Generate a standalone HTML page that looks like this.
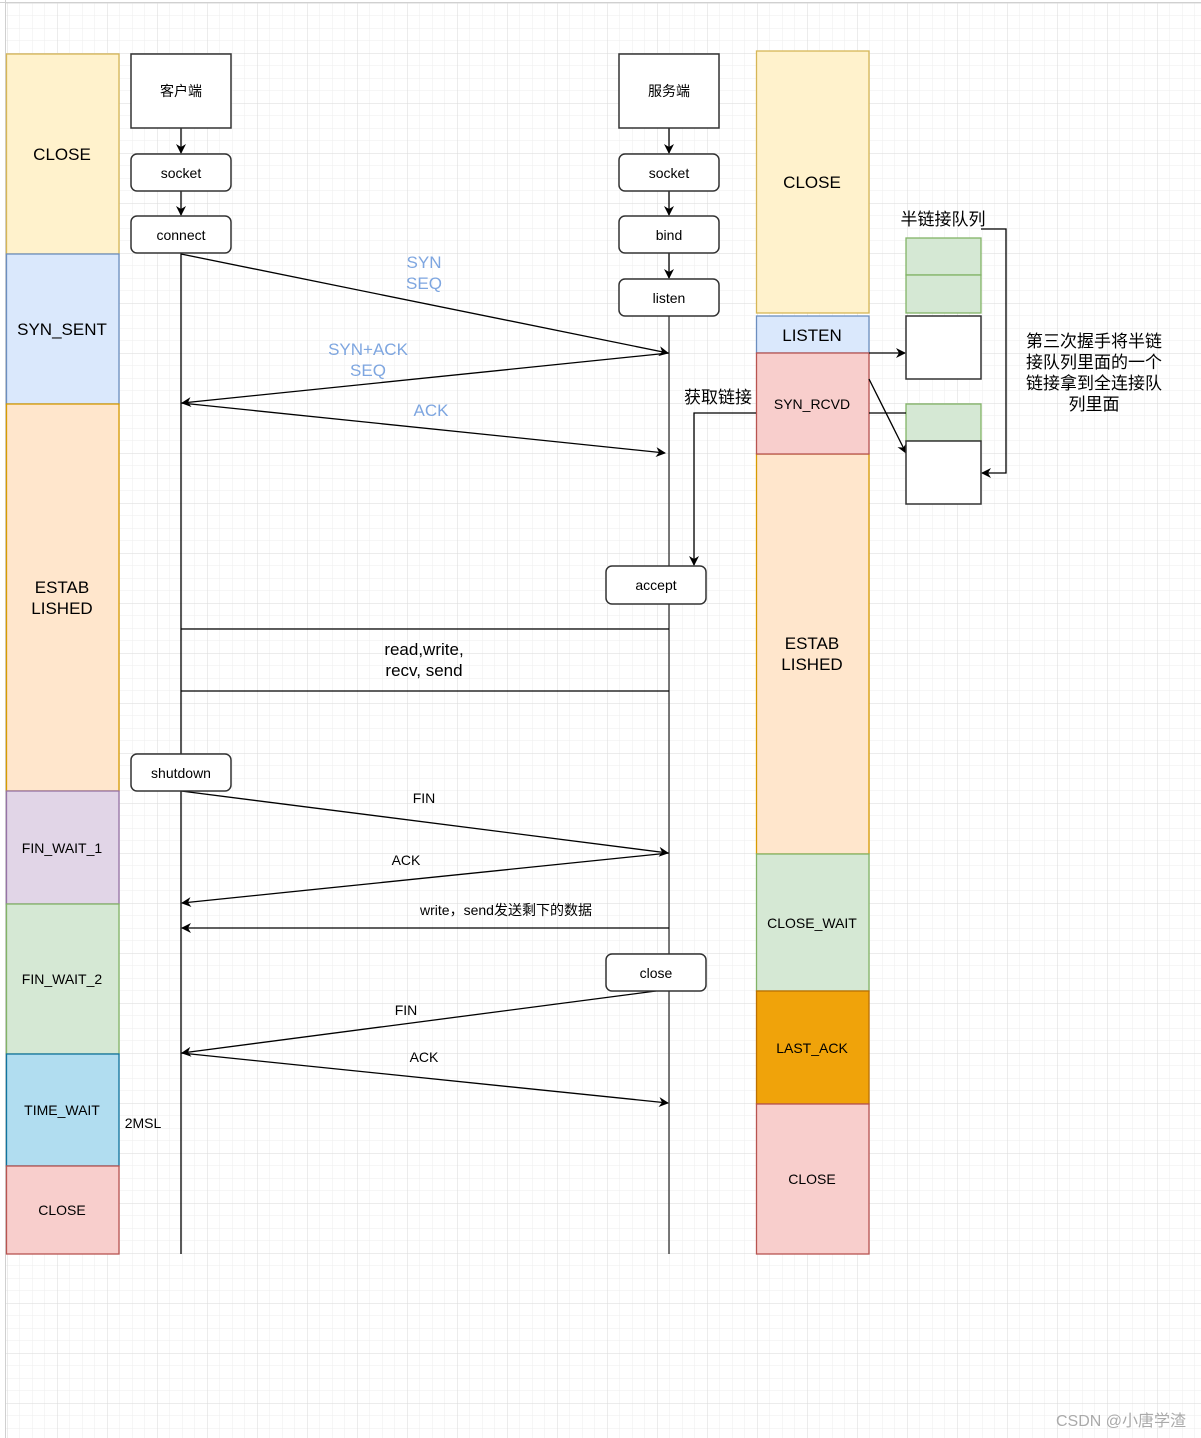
<!DOCTYPE html>
<html><head><meta charset="utf-8"><style>html,body{margin:0;padding:0;background:#fff}svg{display:block}text{font-family:"Liberation Sans","Noto Sans CJK SC",sans-serif}</style></head><body>
<svg width="1201" height="1438" viewBox="0 0 1201 1438" xmlns="http://www.w3.org/2000/svg">
<defs>
<pattern id="g1" x="7" y="3" width="12.5" height="12.5" patternUnits="userSpaceOnUse"><path d="M0 0H12.5M0 0V12.5" stroke="#eeeeee" stroke-width="1" fill="none"/></pattern>
<pattern id="g2" x="7" y="3" width="50" height="50" patternUnits="userSpaceOnUse"><path d="M0 0H50M0 0V50" stroke="#dadada" stroke-width="1" fill="none"/></pattern>
<marker id="a" markerWidth="10" markerHeight="10" refX="9" refY="5" orient="auto" markerUnits="userSpaceOnUse"><path d="M0 0L10 5L0 10L3 5Z" fill="#000"/></marker>
</defs>
<rect x="6" y="3" width="1195" height="1435" fill="url(#g1)"/>
<rect x="6" y="3" width="1195" height="1435" fill="url(#g2)"/>
<line x1="0" y1="2.5" x2="1201" y2="2.5" stroke="#d0d0d0"/>
<line x1="5.5" y1="0" x2="5.5" y2="1438" stroke="#d0d0d0"/>
<g stroke-width="1.3">
<rect x="6.5" y="54" width="112.5" height="200" fill="#fff2cc" stroke="#d6b656"/>
<rect x="6.5" y="254" width="112.5" height="150" fill="#dae8fc" stroke="#6c8ebf"/>
<rect x="6.5" y="404" width="112.5" height="387" fill="#ffe6cc" stroke="#d79b00"/>
<rect x="6.5" y="791" width="112.5" height="113" fill="#e1d5e7" stroke="#9673a6"/>
<rect x="6.5" y="904" width="112.5" height="150" fill="#d5e8d4" stroke="#82b366"/>
<rect x="6.5" y="1054" width="112.5" height="112" fill="#b1ddf0" stroke="#10739e"/>
<rect x="6.5" y="1166" width="112.5" height="88" fill="#f8cecc" stroke="#b85450"/>
<rect x="756.5" y="51" width="112.5" height="262" fill="#fff2cc" stroke="#d6b656"/>
<rect x="756.5" y="316" width="112.5" height="37" fill="#dae8fc" stroke="#6c8ebf"/>
<rect x="756.5" y="454" width="112.5" height="400" fill="#ffe6cc" stroke="#d79b00"/>
<rect x="756.5" y="353" width="112.5" height="101" fill="#f8cecc" stroke="#b85450"/>
<rect x="756.5" y="854" width="112.5" height="137" fill="#d5e8d4" stroke="#82b366"/>
<rect x="756.5" y="991" width="112.5" height="113" fill="#f0a30a" stroke="#BD7000"/>
<rect x="756.5" y="1104" width="112.5" height="150" fill="#f8cecc" stroke="#b85450"/>
<rect x="906" y="238" width="75" height="37" fill="#d5e8d4" stroke="#82b366"/>
<rect x="906" y="275" width="75" height="38" fill="#d5e8d4" stroke="#82b366"/>
<rect x="906" y="404" width="75" height="37" fill="#d5e8d4" stroke="#82b366"/>
</g>
<g stroke="#000" stroke-width="1.3" fill="none">
<line x1="181" y1="128" x2="181" y2="153" marker-end="url(#a)"/>
<line x1="181" y1="191" x2="181" y2="215" marker-end="url(#a)"/>
<line x1="669" y1="128" x2="669" y2="153" marker-end="url(#a)"/>
<line x1="669" y1="191" x2="669" y2="215" marker-end="url(#a)"/>
<line x1="669" y1="253" x2="669" y2="278" marker-end="url(#a)"/>
<line x1="181" y1="253" x2="181" y2="1254"/>
<line x1="669" y1="316" x2="669" y2="1254" stroke="#333"/>
<line x1="181" y1="254" x2="668" y2="353" marker-end="url(#a)"/>
<line x1="669" y1="353" x2="182" y2="403" marker-end="url(#a)"/>
<line x1="181" y1="403" x2="665" y2="453" marker-end="url(#a)"/>
<line x1="181" y1="629" x2="669" y2="629"/>
<line x1="181" y1="691" x2="669" y2="691"/>
<line x1="181" y1="791" x2="668" y2="853" marker-end="url(#a)"/>
<line x1="669" y1="853" x2="182" y2="903" marker-end="url(#a)"/>
<line x1="669" y1="928" x2="182" y2="928" marker-end="url(#a)"/>
<line x1="656" y1="991" x2="182" y2="1053" marker-end="url(#a)"/>
<line x1="181" y1="1053" x2="668" y2="1103" marker-end="url(#a)"/>
<line x1="869" y1="353" x2="905" y2="353" marker-end="url(#a)"/>
<line x1="869" y1="379" x2="906" y2="453" marker-end="url(#a)"/>
<line x1="869" y1="413" x2="906" y2="413"/>
<polyline points="981,229 1006,229 1006,473 982,473" marker-end="url(#a)"/>
<polyline points="756,413 694,413 694,565" marker-end="url(#a)"/>
</g>
<g stroke="#333" stroke-width="1.5" fill="#fff">
<rect x="906" y="316" width="75" height="63"/>
<rect x="906" y="441" width="75" height="63"/>
<rect x="131" y="54" width="100" height="74"/>
<rect x="619" y="54" width="100" height="74"/>
<rect x="131" y="154" width="100" height="37" rx="6"/>
<rect x="131" y="216" width="100" height="37" rx="6"/>
<rect x="131" y="754" width="100" height="37" rx="6"/>
<rect x="619" y="154" width="100" height="37" rx="6"/>
<rect x="619" y="216" width="100" height="37" rx="6"/>
<rect x="619" y="279" width="100" height="37" rx="6"/>
<rect x="606" y="566" width="100" height="38" rx="6"/>
<rect x="606" y="954" width="100" height="37" rx="6"/>
</g>
<g font-size="17" text-anchor="middle" fill="#000">
<text x="62" y="160">CLOSE</text>
<text x="62" y="335">SYN_SENT</text>
<text x="62" y="593">ESTAB</text>
<text x="62" y="614">LISHED</text>
<text x="812" y="188">CLOSE</text>
<text x="812" y="341">LISTEN</text>
<text x="812" y="649">ESTAB</text>
<text x="812" y="670">LISHED</text>
<text x="943" y="225">半链接队列</text>
<text x="1094" y="347">第三次握手将半链</text>
<text x="1094" y="368">接队列里面的一个</text>
<text x="1094" y="389">链接拿到全连接队</text>
<text x="1094" y="410">列里面</text>
<text x="718" y="403">获取链接</text>
<g fill="#7ea6e0"><text x="424" y="268">SYN</text><text x="424" y="289">SEQ</text><text x="368" y="355">SYN+ACK</text><text x="368" y="376">SEQ</text><text x="431" y="416">ACK</text></g>
<text x="424" y="655">read,write,</text>
<text x="424" y="676">recv, send</text>
</g>
<g font-size="14" text-anchor="middle" fill="#000">
<text x="181" y="96">客户端</text>
<text x="669" y="96">服务端</text>
<text x="181" y="178">socket</text>
<text x="181" y="240">connect</text>
<text x="181" y="778">shutdown</text>
<text x="669" y="178">socket</text>
<text x="669" y="240">bind</text>
<text x="669" y="303">listen</text>
<text x="656" y="590">accept</text>
<text x="656" y="978">close</text>
<text x="62" y="853">FIN_WAIT_1</text>
<text x="62" y="984">FIN_WAIT_2</text>
<text x="62" y="1115">TIME_WAIT</text>
<text x="62" y="1215">CLOSE</text>
<text x="812" y="409">SYN_RCVD</text>
<text x="812" y="928">CLOSE_WAIT</text>
<text x="812" y="1053">LAST_ACK</text>
<text x="812" y="1184">CLOSE</text>
<text x="424" y="803">FIN</text>
<text x="406" y="865">ACK</text>
<text x="506" y="915">write，send发送剩下的数据</text>
<text x="406" y="1015">FIN</text>
<text x="424" y="1062">ACK</text>
<text x="143" y="1128">2MSL</text>
</g>
<text x="1186" y="1426" font-size="16" text-anchor="end" fill="#aaa">CSDN @小唐学渣</text>
</svg>
</body></html>
